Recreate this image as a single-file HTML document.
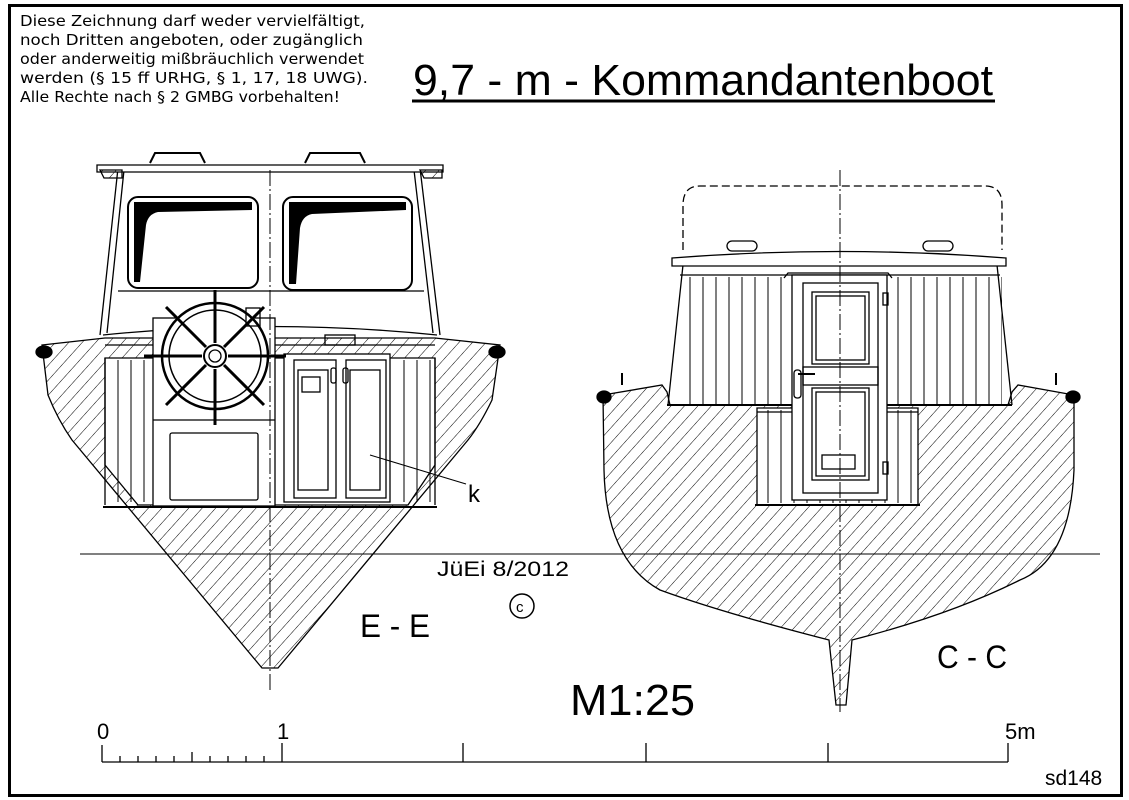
<!DOCTYPE html>
<html><head><meta charset="utf-8"><style>
html,body{margin:0;padding:0;background:#fff;}
svg{display:block;}
</style></head><body>
<svg width="1129" height="800" viewBox="0 0 1129 800" xmlns="http://www.w3.org/2000/svg">
<defs>
<pattern id="h" width="10" height="10" patternUnits="userSpaceOnUse" patternTransform="rotate(42)">
<line x1="0" y1="0" x2="0" y2="10" stroke="#000" stroke-width="1"/>
</pattern>
<pattern id="pl" width="13" height="10" patternUnits="userSpaceOnUse">
<line x1="1" y1="0" x2="1" y2="10" stroke="#000" stroke-width="1"/>
</pattern>
</defs>
<rect width="1129" height="800" fill="#fff"/>
<rect x="9.5" y="5.5" width="1112" height="790" fill="none" stroke="#000" stroke-width="3"/>

<g font-family="'DejaVu Sans',sans-serif" font-size="15" fill="#000" lengthAdjust="spacingAndGlyphs">
<text x="20" y="26" textLength="345" lengthAdjust="spacingAndGlyphs">Diese Zeichnung darf weder vervielfältigt,</text>
<text x="20" y="45" textLength="343" lengthAdjust="spacingAndGlyphs">noch Dritten angeboten, oder zugänglich</text>
<text x="20" y="64" textLength="344" lengthAdjust="spacingAndGlyphs">oder anderweitig mißbräuchlich verwendet</text>
<text x="20" y="83" textLength="348" lengthAdjust="spacingAndGlyphs">werden (§ 15 ff  URHG, § 1, 17, 18 UWG).</text>
<text x="20" y="102" textLength="320" lengthAdjust="spacingAndGlyphs">Alle Rechte nach § 2 GMBG vorbehalten!</text>
</g>
<text x="413" y="95" font-family="'Liberation Sans',sans-serif" font-size="44" textLength="580" lengthAdjust="spacingAndGlyphs">9,7 - m - Kommandantenboot</text>
<line x1="412" y1="101" x2="995" y2="101" stroke="#000" stroke-width="3"/>

<line x1="80" y1="554" x2="1100" y2="554" stroke="#000" stroke-width="1"/>

<!-- ===== E-E ===== -->
<g stroke="#000" fill="none" stroke-width="1.3">
<path fill-rule="evenodd" fill="url(#h)" d="M42,345 L105,338 L435,338 L500,345 L492,400 Q480,425 468,440 L278,668 L262,668 L72,440 Q58,420 48,395 Z M105,358 L435,358 L435,465 L408,505 L138,505 L105,465 Z"/>
<ellipse cx="44" cy="352" rx="8" ry="6" fill="#000"/>
<ellipse cx="497" cy="352" rx="8" ry="6" fill="#000"/>
<path d="M118,168 L100,335 M420,168 L440,335 M124,170 L107,333 M414,170 L433,333"/>
<path d="M97,165 L443,165 L443,172 L97,172 Z" fill="#fff"/>
<path d="M100,170 h22 v8 h-18 z M420,170 h22 v8 h-18z" fill="url(#h)"/>
<path d="M150,163 L155,153 L200,153 L205,163 M305,163 L310,153 L360,153 L365,163" stroke-width="2"/>
<line x1="118" y1="291" x2="424" y2="291"/>
<path d="M103,335 Q270,318 437,335"/>
<line x1="105" y1="345" x2="435" y2="345"/>
<rect x="128" y="197" width="130" height="91" rx="10" stroke-width="2"/>
<rect x="283" y="197" width="129" height="93" rx="10" stroke-width="2"/>
<path d="M134,202 L252,202 L252,210 L158,212 Q148,214 146,225 L140,282 L134,282 Z" fill="#000" stroke="none"/>
<path d="M289,202 L406,202 L406,210 L312,214 Q302,216 300,228 L296,284 L289,284 Z" fill="#000" stroke="none"/>
<rect x="108" y="360" width="45" height="142" fill="url(#pl)" stroke="none"/>
<rect x="392" y="360" width="40" height="142" fill="url(#pl)" stroke="none"/>
<line x1="105" y1="358" x2="105" y2="505"/>
<line x1="435" y1="358" x2="435" y2="505"/>
<rect x="153" y="318" width="122" height="188" fill="#fff"/>
<line x1="153" y1="420" x2="275" y2="420"/>
<rect x="170" y="433" width="88" height="67" rx="2"/>
<line x1="103" y1="507" x2="437" y2="507" stroke-width="2"/>
<rect x="284" y="354" width="106" height="148" fill="#fff"/>
<rect x="294" y="360" width="42" height="138"/>
<rect x="346" y="360" width="40" height="138"/>
<rect x="298" y="370" width="30" height="120"/>
<rect x="350" y="370" width="30" height="120"/>
<rect x="302" y="377" width="18" height="15"/>
<rect x="325" y="335" width="30" height="10"/>
<rect x="331" y="368" width="5" height="15" rx="2"/>
<rect x="343" y="368" width="5" height="15" rx="2"/>
<circle cx="215" cy="356" r="53" fill="#fff" stroke-width="2.5"/>
<circle cx="215" cy="356" r="46" stroke-width="1.5"/>
<circle cx="215" cy="356" r="11" stroke-width="2"/>
<circle cx="215" cy="356" r="6"/>
<g stroke-width="3">
<line x1="215" y1="290" x2="215" y2="343"/><line x1="215" y1="369" x2="215" y2="425"/>
<line x1="144" y1="356" x2="202" y2="356"/><line x1="228" y1="356" x2="286" y2="356"/>
<line x1="166" y1="307" x2="206" y2="347"/><line x1="224" y1="365" x2="264" y2="405"/>
<line x1="264" y1="307" x2="224" y2="347"/><line x1="206" y1="365" x2="166" y2="405"/>
</g>
<rect x="246" y="308" width="14" height="18"/>
<line x1="270" y1="170" x2="270" y2="690" stroke-dasharray="16,3,2,3" stroke-width="1"/>
<line x1="370" y1="455" x2="466" y2="484" stroke-width="1"/>
</g>
<text x="468" y="502" font-family="'Liberation Sans',sans-serif" font-size="24">k</text>

<!-- ===== C-C ===== -->
<g stroke="#000" fill="none" stroke-width="1.3">
<path fill-rule="evenodd" fill="url(#h)" d="M603,395 L662,385 L667,392 L670,405 L1008,405 L1012,392 L1018,385 L1074,395 L1074,470 Q1070,560 1020,580 Q950,615 852,640 L846,705 L836,705 L829,640 Q720,612 660,590 Q606,560 604,470 Z M757,408 L918,408 L918,505 L757,505 Z"/>
<ellipse cx="604" cy="397" rx="7" ry="6" fill="#000"/>
<ellipse cx="1073" cy="397" rx="7" ry="6" fill="#000"/>
<rect x="680" y="277" width="322" height="128" fill="url(#pl)" stroke="none"/>
<rect x="759" y="410" width="157" height="93" fill="url(#pl)" stroke="none"/>
<path d="M680,275 L1000,275"/>
<path d="M683,265 L668,405 M997,265 L1012,405"/>
<path d="M672,258 Q840,245 1006,258 L1006,266 L672,266 Z" fill="#fff"/>
<path d="M683,250 L683,205 Q683,186 700,186 L985,186 Q1002,186 1002,205 L1002,250" stroke-dasharray="8,4"/>
<rect x="727" y="241" width="30" height="10" rx="5"/>
<rect x="923" y="241" width="30" height="10" rx="5"/>
<path d="M784,278 L788,273 L888,273 L892,278"/>
<line x1="667" y1="405" x2="1012" y2="405" stroke-width="2"/>
<line x1="757" y1="412" x2="918" y2="412"/>
<line x1="755" y1="505" x2="920" y2="505" stroke-width="2"/>
<rect x="792" y="275" width="95" height="225" fill="#fff"/>
<rect x="803" y="283" width="75" height="210"/>
<rect x="812" y="292" width="57" height="72"/>
<rect x="816" y="296" width="49" height="64"/>
<rect x="803" y="367" width="75" height="18"/>
<rect x="812" y="388" width="57" height="92"/>
<rect x="816" y="392" width="49" height="84"/>
<rect x="822" y="455" width="33" height="14"/>
<rect x="794" y="370" width="7" height="28" rx="3"/>
<line x1="798" y1="374" x2="815" y2="374" stroke-width="2"/>
<rect x="883" y="293" width="5" height="12"/>
<rect x="883" y="462" width="5" height="12"/>
<line x1="840" y1="170" x2="840" y2="712" stroke-dasharray="16,3,2,3" stroke-width="1"/>
<path d="M622,385 v-12 M1056,385 v-12" stroke-width="2"/>
</g>

<g font-family="'Liberation Sans',sans-serif" fill="#000">
<text x="437" y="576" font-size="21" textLength="132" lengthAdjust="spacingAndGlyphs">JüEi 8/2012</text>
<text x="360" y="637" font-size="32" textLength="70" lengthAdjust="spacingAndGlyphs">E - E</text>
<text x="937" y="668" font-size="32" textLength="70" lengthAdjust="spacingAndGlyphs">C - C</text>
<text x="570" y="715" font-size="44" textLength="125" lengthAdjust="spacingAndGlyphs">M1:25</text>
<text x="97" y="739" font-size="22">0</text>
<text x="277" y="739" font-size="22">1</text>
<text x="1005" y="739" font-size="22">5m</text>
<text x="1045" y="785" font-size="21">sd148</text>
</g>
<circle cx="522" cy="606" r="12" fill="none" stroke="#000" stroke-width="1.5"/>
<text x="516" y="612" font-family="'Liberation Sans',sans-serif" font-size="15">c</text>

<g stroke="#000" stroke-width="1.3">
<line x1="102" y1="762" x2="1008" y2="762"/>
<line x1="102" y1="745" x2="102" y2="762"/>
<line x1="282" y1="743" x2="282" y2="762"/>
<line x1="463" y1="743" x2="463" y2="762"/>
<line x1="646" y1="743" x2="646" y2="762"/>
<line x1="828" y1="743" x2="828" y2="762"/>
<line x1="1008" y1="743" x2="1008" y2="762"/>
<line x1="120" y1="756" x2="120" y2="762"/><line x1="138" y1="756" x2="138" y2="762"/>
<line x1="156" y1="756" x2="156" y2="762"/><line x1="174" y1="756" x2="174" y2="762"/>
<line x1="192" y1="752" x2="192" y2="762"/><line x1="210" y1="756" x2="210" y2="762"/>
<line x1="228" y1="756" x2="228" y2="762"/><line x1="246" y1="756" x2="246" y2="762"/>
<line x1="264" y1="756" x2="264" y2="762"/>
</g>
</svg>
</body></html>
